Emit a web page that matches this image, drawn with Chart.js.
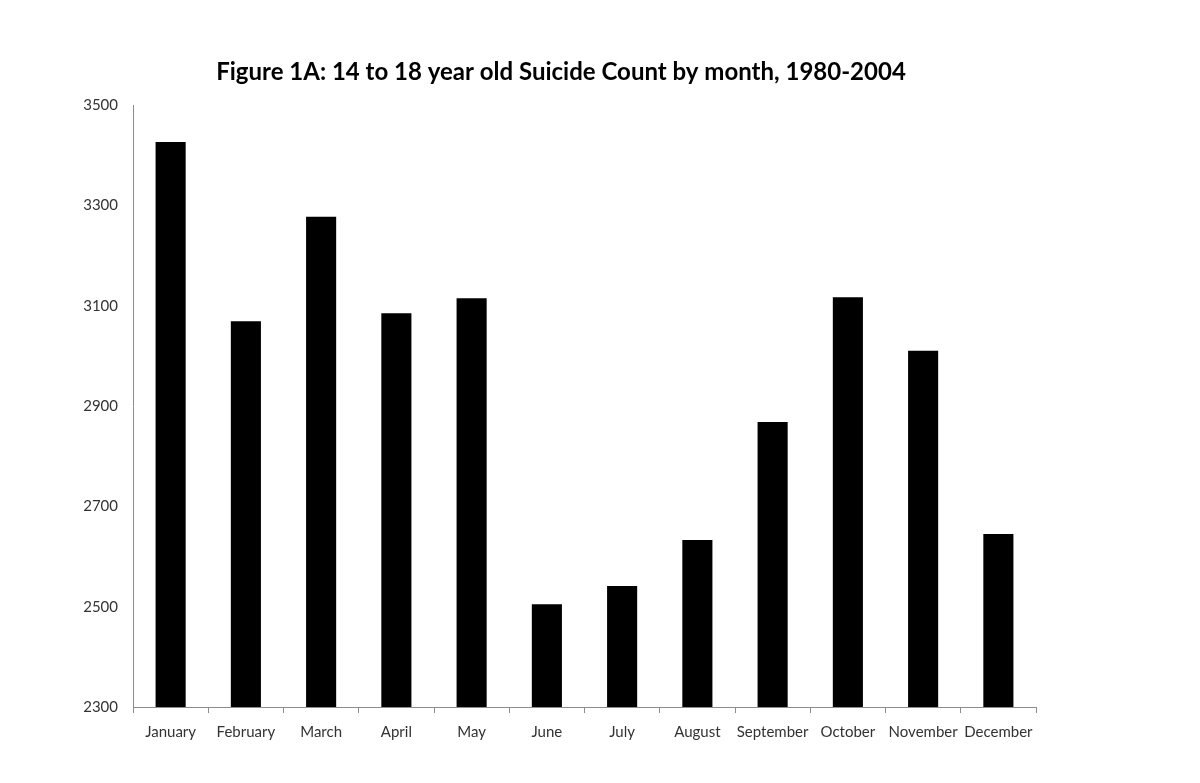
<!DOCTYPE html>
<html><head><meta charset="utf-8">
<script src="https://cdn.jsdelivr.net/npm/chart.js@4/dist/chart.umd.min.js"></script>
<style>html,body{margin:0;padding:0;background:#fff;}#wrap{width:1200px;height:783px;}</style>
</head><body><div id="wrap"><canvas id="c" width="1200" height="783"></canvas></div>
<script>
const titleText = "Figure 1A: 14 to 18 year old Suicide Count by month, 1980-2004";
const months = ["January","February","March","April","May","June","July","August","September","October","November","December"];
const counts = [3426, 3069, 3277, 3085, 3115, 2505, 2541, 2633, 2868, 3117, 3010, 2645];
const yTicks = [2300, 2500, 2700, 2900, 3100, 3300, 3500];

const titlePlugin = {
  id: 'customTitle',
  afterDraw(chart) {
    const ctx = chart.ctx;
    ctx.save();
    ctx.font = "bold 24px Lato, 'Open Sans', sans-serif";
    ctx.fillStyle = "#000";
    ctx.textAlign = "center";
    ctx.textBaseline = "middle";
    ctx.fillText(titleText, 561, 72);
    ctx.restore();
  }
};

new Chart(document.getElementById('c'), {
  type: 'bar',
  data: { labels: months, datasets: [{ data: counts, backgroundColor: '#000', borderWidth: 0, barPercentage: 0.4, categoryPercentage: 1.0 }] },
  options: {
    responsive: false, animation: false,
    layout: { padding: { top: 105, right: 164, bottom: 0, left: 0 } },
    plugins: { legend: { display: false }, tooltip: { enabled: false } },
    scales: {
      x: {
        grid: { display: true, drawOnChartArea: false, drawTicks: true, tickLength: 6, color: '#8c8c8c', offset: true },
        border: { display: true, color: '#8c8c8c', width: 1 },
        ticks: { color: '#333', font: { family: "Lato, 'Open Sans', sans-serif", size: 15 }, padding: 10, maxRotation: 0, autoSkip: false },
        afterFit(s) { s.height = 76; }
      },
      y: {
        min: 2300, max: 3500,
        afterBuildTicks(s) { s.ticks = yTicks.map(v => ({ value: v })); },
        grid: { display: false, drawTicks: false },
        border: { display: true, color: '#8c8c8c', width: 1 },
        ticks: { color: '#333', font: { family: "Lato, 'Open Sans', sans-serif", size: 15 }, padding: 15, callback: v => String(v) },
        afterFit(s) { s.width = 133; }
      }
    }
  },
  plugins: [titlePlugin]
});
</script></body></html>
